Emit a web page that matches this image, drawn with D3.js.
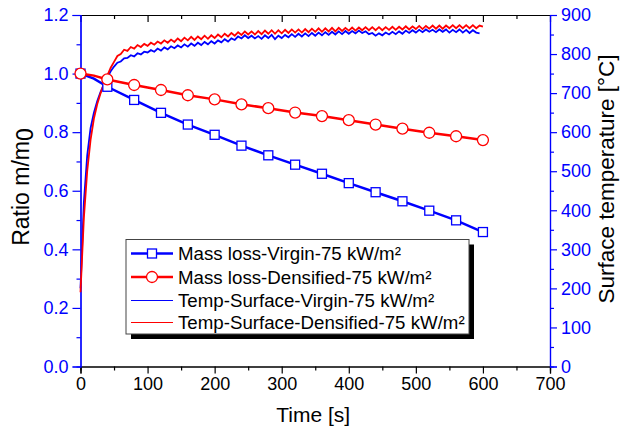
<!DOCTYPE html>
<html>
<head>
<meta charset="utf-8">
<script src="https://cdn.jsdelivr.net/npm/d3@7"></script>
<style>
  body { margin: 0; background: #fff; }
  svg { display: block; font-family: Arial, "Liberation Sans", sans-serif; }
</style>
</head>
<body>
<svg id="chart" width="620" height="437"></svg>
<script>
(function() {
  'use strict';

  var massTime = [0, 20, 40, 80, 120, 160, 200, 240, 280, 320, 360, 400, 440, 480, 520, 560, 600];
  var massVirgin = [1.0, 0.983, 0.955, 0.910, 0.866, 0.826, 0.791, 0.754, 0.721, 0.689, 0.658, 0.626, 0.595, 0.564, 0.532, 0.499, 0.459];
  var massDensified = [1.0, 0.993, 0.980, 0.961, 0.944, 0.926, 0.912, 0.895, 0.882, 0.867, 0.855, 0.841, 0.826, 0.812, 0.798, 0.786, 0.773];

  // surface temperature, sampled every 5 s
  var tempStep = 5;
  var tempVirgin = [
    200, 420, 540, 610, 650, 680, 703, 722, 740, 756, 768, 778, 781, 789, 790, 797, 794, 802, 799, 806,
    804, 810, 806, 814, 809, 817, 812, 820, 815, 822, 817, 825, 819, 827, 821, 829, 823, 831, 825, 833,
    827, 835, 830, 838, 832, 840, 836, 845, 840, 848, 841, 847, 840, 846, 839, 848, 841, 849, 838, 847,
    841, 849, 843, 851, 844, 852, 845, 853, 846, 854, 847, 855, 848, 856, 849, 857, 850, 858, 851, 859,
    852, 859, 853, 860, 854, 858, 851, 854, 847, 853, 848, 855, 850, 857, 851, 858, 852, 860, 854, 861,
    855, 862, 856, 863, 857, 862, 856, 863, 857, 863, 855, 862, 856, 863, 855, 862, 854, 861, 855, 853
  ];
  var tempDensified = [
    190, 380, 500, 580, 635, 672, 700, 725, 745, 765, 780, 795, 800, 811, 808, 818, 814, 823, 818, 826,
    821, 829, 824, 832, 827, 835, 829, 837, 831, 840, 833, 842, 835, 844, 836, 845, 838, 847, 839, 848,
    841, 850, 843, 852, 845, 854, 847, 856, 849, 858, 850, 858, 850, 859, 851, 860, 852, 861, 852, 861,
    853, 862, 854, 863, 855, 863, 855, 864, 856, 865, 857, 866, 857, 866, 858, 867, 858, 867, 859, 867,
    860, 868, 860, 868, 861, 869, 861, 869, 861, 869, 861, 869, 862, 870, 862, 870, 863, 871, 863, 871,
    864, 872, 864, 872, 865, 873, 865, 873, 865, 873, 866, 874, 866, 874, 866, 874, 866, 874, 866, 873,
    870
  ];

  var xTicks = [0, 100, 200, 300, 400, 500, 600, 700];
  var ratioTicks = [0, 0.2, 0.4, 0.6, 0.8, 1.0, 1.2];
  var tempTicks = [0, 100, 200, 300, 400, 500, 600, 700, 800, 900];

  var legendLabels = [
    "Mass loss-Virgin-75 kW/m\u00b2",
    "Mass loss-Densified-75 kW/m\u00b2",
    "Temp-Surface-Virgin-75 kW/m\u00b2",
    "Temp-Surface-Densified-75 kW/m\u00b2"
  ];

  var BLUE = "#0000ff", RED = "#ff0000";
  var left = 80.5, right = 550, top = 15, bottom = 366.5;
  var TICK_FONT = 18;

  var svg = d3.select("#chart");

  var x = d3.scaleLinear().domain([0, 700]).range([left, right]);
  var y = d3.scaleLinear().domain([0, 1.2]).range([bottom, top]);
  var yT = d3.scaleLinear().domain([0, 900]).range([bottom, top]);

  function minorOf(ticks, step) {
    var out = [];
    for (var i = 0; i < ticks.length - 1; i++) out.push(ticks[i] + step);
    return out;
  }

  function styleAxis(g, color) {
    g.select(".domain").attr("stroke", color).attr("stroke-width", 1.2);
    g.selectAll(".tick line").attr("stroke", color).attr("stroke-width", 1.2);
    g.selectAll(".tick text").attr("fill", color).attr("font-size", TICK_FONT)
      .attr("font-family", "Arial, 'Liberation Sans', sans-serif");
    return g;
  }

  // bottom axis
  svg.append("g").attr("transform", "translate(0," + bottom + ")")
    .call(d3.axisBottom(x).tickValues(minorOf(xTicks, 50)).tickSize(4).tickFormat(""))
    .call(styleAxis, "#000");
  svg.append("g").attr("transform", "translate(0," + bottom + ")")
    .call(d3.axisBottom(x).tickValues(xTicks).tickSize(7).tickPadding(4).tickFormat(d3.format("d")))
    .call(styleAxis, "#000");

  // top axis, ticks pointing inward
  svg.append("g").attr("transform", "translate(0," + top + ")")
    .call(d3.axisTop(x).tickValues(minorOf(xTicks, 50)).tickSizeInner(-4).tickSizeOuter(0).tickFormat(""))
    .call(styleAxis, "#000");
  svg.append("g").attr("transform", "translate(0," + top + ")")
    .call(d3.axisTop(x).tickValues(xTicks).tickSizeInner(-7).tickSizeOuter(0).tickFormat(""))
    .call(styleAxis, "#000");

  // left axis (ratio)
  svg.append("g").attr("transform", "translate(" + left + ",0)")
    .call(d3.axisLeft(y).tickValues(minorOf(ratioTicks, 0.1)).tickSize(4).tickFormat(""))
    .call(styleAxis, BLUE);
  svg.append("g").attr("transform", "translate(" + left + ",0)")
    .call(d3.axisLeft(y).tickValues(ratioTicks).tickSize(8).tickPadding(4).tickFormat(d3.format(".1f")))
    .call(styleAxis, BLUE);

  // right axis (temperature)
  svg.append("g").attr("transform", "translate(" + right + ",0)")
    .call(d3.axisRight(yT).tickValues(minorOf(tempTicks, 50)).tickSize(4).tickFormat(""))
    .call(styleAxis, BLUE);
  svg.append("g").attr("transform", "translate(" + right + ",0)")
    .call(d3.axisRight(yT).tickValues(tempTicks).tickSize(7).tickPadding(4).tickFormat(d3.format("d")))
    .call(styleAxis, BLUE);

  // axis titles
  svg.append("text")
    .attr("x", (left + right) / 2 - 2).attr("y", 422)
    .attr("text-anchor", "middle").attr("font-size", 21)
    .text("Time [s]");

  var ratioTitle = svg.append("text")
    .attr("transform", "translate(29,187) rotate(-90)")
    .attr("text-anchor", "middle").attr("font-size", 23);
  ratioTitle.append("tspan").text("Ratio m/m");
  ratioTitle.append("tspan").attr("dy", 4).text("0");

  svg.append("text")
    .attr("transform", "translate(614,179) rotate(-90)")
    .attr("text-anchor", "middle").attr("font-size", 22.5)
    .text("Surface temperature [\u00b0C]");

  // temperature curves
  var tempLine = d3.line()
    .x(function(d, i) { return x(i * tempStep); })
    .y(function(d) { return yT(d); });

  svg.append("path").datum(tempVirgin)
    .attr("d", tempLine).attr("fill", "none")
    .attr("stroke", BLUE).attr("stroke-width", 1.8);
  svg.append("path").datum(tempDensified)
    .attr("d", tempLine).attr("fill", "none")
    .attr("stroke", RED).attr("stroke-width", 1.8);

  // mass loss curves
  function massSeries(values) {
    return massTime.map(function(t, i) { return { t: t, v: values[i] }; });
  }
  var massLine = d3.line()
    .x(function(d) { return x(d.t); })
    .y(function(d) { return y(d.v); });

  var virgin = massSeries(massVirgin);
  var densified = massSeries(massDensified);

  svg.append("path").datum(virgin)
    .attr("d", massLine).attr("fill", "none")
    .attr("stroke", BLUE).attr("stroke-width", 2.5);
  svg.selectAll("rect.sq").data(virgin.filter(function(d) { return d.t % 40 === 0; }))
    .enter().append("rect").attr("class", "sq")
    .attr("x", function(d) { return x(d.t) - 4.5; })
    .attr("y", function(d) { return y(d.v) - 4.5; })
    .attr("width", 9).attr("height", 9)
    .attr("fill", "#fff").attr("stroke", BLUE).attr("stroke-width", 1.3);

  svg.append("path").datum(densified)
    .attr("d", massLine).attr("fill", "none")
    .attr("stroke", RED).attr("stroke-width", 2.5);
  svg.selectAll("circle.ci").data(densified.filter(function(d) { return d.t % 40 === 0; }))
    .enter().append("circle").attr("class", "ci")
    .attr("cx", function(d) { return x(d.t); })
    .attr("cy", function(d) { return y(d.v); })
    .attr("r", 5.5)
    .attr("fill", "#fff").attr("stroke", RED).attr("stroke-width", 1.3);

  // legend
  var lx = 126, ly = 239.5, lw = 343, lh = 94.5;
  svg.append("rect").attr("x", lx + 5).attr("y", ly + 5)
    .attr("width", lw).attr("height", lh).attr("fill", "#000");
  svg.append("rect").attr("x", lx).attr("y", ly)
    .attr("width", lw).attr("height", lh)
    .attr("fill", "#fff").attr("stroke", "#444").attr("stroke-width", 1);

  var legendColors = [BLUE, RED, BLUE, RED];
  var legendWidths = [2.5, 2.5, 1.2, 1.2];
  var legendMarkers = ["square", "circle", null, null];
  var rowY = [253.5, 277, 300.5, 322.5];

  legendLabels.forEach(function(label, i) {
    var g = svg.append("g").attr("transform", "translate(0," + rowY[i] + ")");
    g.append("line").attr("x1", 131).attr("x2", 173).attr("y1", 0).attr("y2", 0)
      .attr("stroke", legendColors[i]).attr("stroke-width", legendWidths[i]);
    if (legendMarkers[i] === "square") {
      g.append("rect").attr("x", 152 - 4.5).attr("y", -4.5).attr("width", 9).attr("height", 9)
        .attr("fill", "#fff").attr("stroke", legendColors[i]).attr("stroke-width", 1.3);
    } else if (legendMarkers[i] === "circle") {
      g.append("circle").attr("cx", 152).attr("cy", 0).attr("r", 5.5)
        .attr("fill", "#fff").attr("stroke", legendColors[i]).attr("stroke-width", 1.3);
    }
    g.append("text").attr("x", 178).attr("y", 0).attr("dy", "0.35em")
      .attr("font-size", 18.7).text(label);
  });
}());
</script>
</body>
</html>
